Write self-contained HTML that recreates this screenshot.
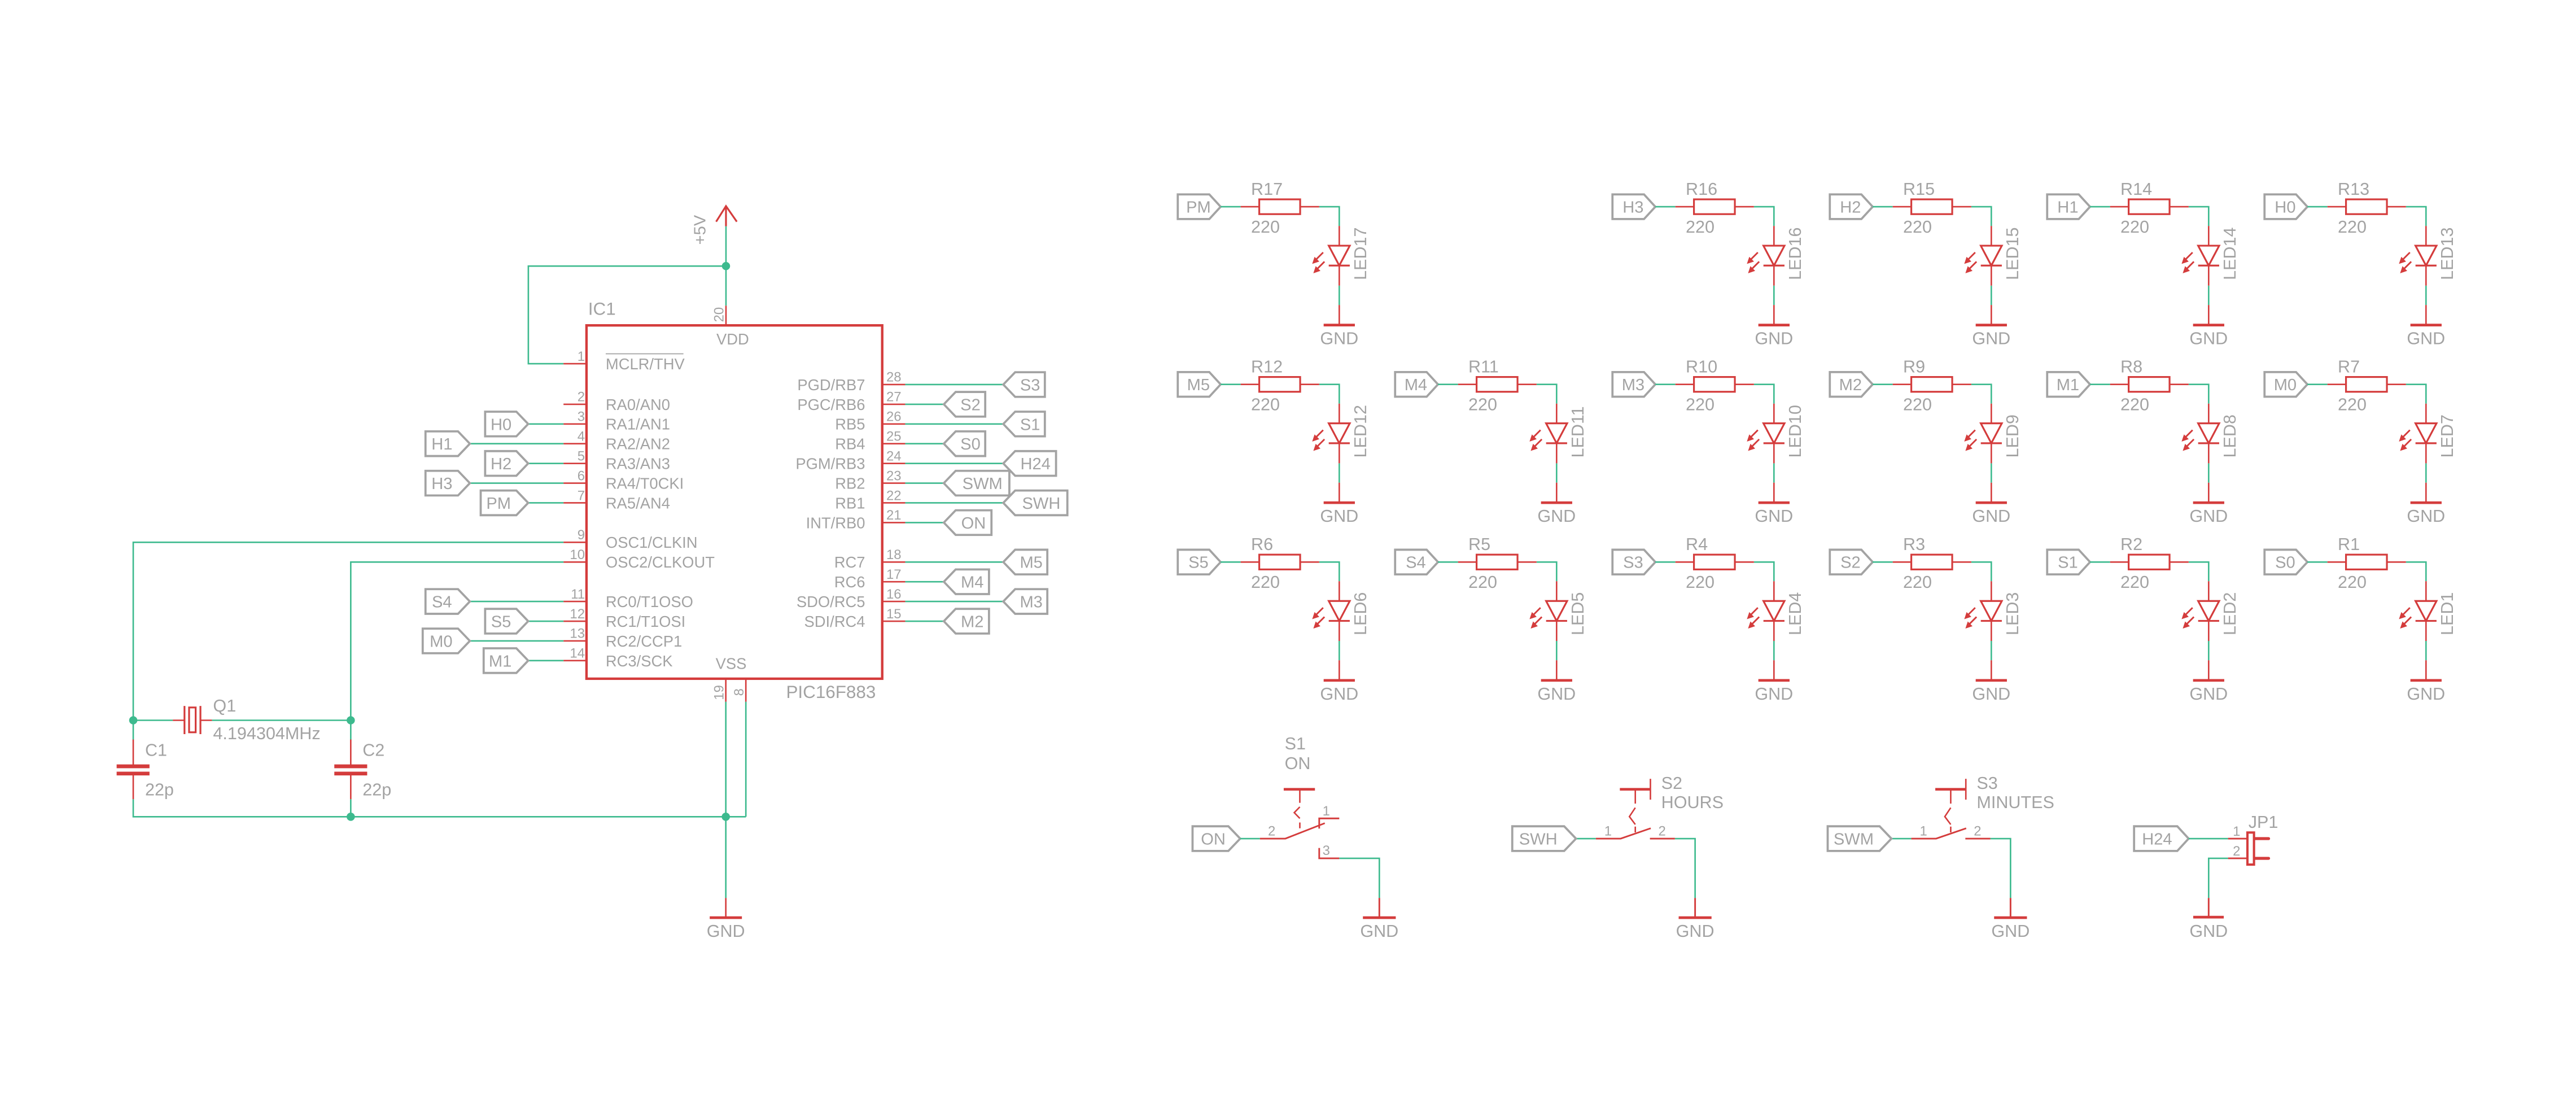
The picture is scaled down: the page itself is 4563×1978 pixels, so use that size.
<!DOCTYPE html>
<html><head><meta charset="utf-8"><style>
html,body{margin:0;padding:0;background:#fff;}
svg{display:block;}
text{font-family:"Liberation Sans",Arial,sans-serif;fill:#a3a3a3;}
.g{stroke:#3dba8e;stroke-width:0.9;fill:none;}
.r{stroke:#d43c3c;stroke-width:0.9;fill:none;}
.rb{stroke:#d43c3c;stroke-width:1.6;fill:none;}
.f{stroke:#a3a3a3;stroke-width:1.3;fill:none;stroke-linejoin:miter;}
.t{font-size:10.5px;}
.ft{font-size:10px;text-anchor:middle;}
.pn{font-size:8.2px;}
.pl{font-size:9.4px;}
.gnd{font-size:10.5px;text-anchor:middle;}
</style></head><body>
<svg width="4563" height="1978" viewBox="0 0 1568 679.7" preserveAspectRatio="none" xmlns="http://www.w3.org/2000/svg">
<defs>
<g id="led">
<path class="f" d="M0,-7.5H19.2L26.1,0L19.2,7.5H0Z"/>
<path class="g" d="M26.1,0H38.3M86.1,0H98.3V11.7M98.3,48V59.8"/>
<path class="r" d="M38.3,0H49.6M74.5,0H86.1M98.3,11.7V23.7M98.3,35.8V48M98.3,59.8V72"/>
<rect class="r" x="49.6" y="-4.5" width="24.9" height="9" style="stroke-width:1.1"/>
<path class="r" d="M91.9,23.7H104.7L98.3,35.8ZM91.9,35.8H104.7" style="stroke-width:1.1"/>
<path class="rb" d="M88.8,72H107.8"/>
<path class="r" d="M88.5,27.8L84,32.3M89.3,33.4L84.7,38" style="stroke-width:1"/>
<path d="M82.3,34.3L85.6,33.2L83.4,31Z M83,40L86.3,38.9L84.1,36.7Z" fill="#d43c3c" stroke="#d43c3c" stroke-width="0.6"/>
</g>
</defs>

<!-- IC1 -->
<rect x="357" y="198" width="180" height="215" class="rb" style="stroke-width:1.5"/>
<text x="358" y="191.5" style="font-size:10.8px">IC1</text>
<text x="478.5" y="424.8" style="font-size:10.8px">PIC16F883</text>
<text x="446" y="209.6" class="pl" text-anchor="middle">VDD</text>
<text x="445" y="407" class="pl" text-anchor="middle">VSS</text>
<path class="r" d="M441.9,125.4V137.7M435.9,134.9L441.9,125.4L448.5,134.9" style="stroke-width:1.1"/>
<path class="g" d="M441.9,137.7V186M441.9,161.9H321.6V221.3H343"/>
<path class="r" d="M441.9,186V198"/>
<circle cx="441.9" cy="161.9" r="2.5" fill="#3dba8e"/>
<text transform="translate(429.3,148.9) rotate(-90)" style="font-size:10px">+5V</text>
<text transform="translate(440.4,196) rotate(-90)" class="pn">20</text>
<path class="r" d="M343,221.3H357M343,246H357M343,258H357M343,270H357M343,282H357M343,294H357M343,306H357M343,330H357M343,342H357M343,366H357M343,378H357M343,390H357M343,402H357"/>
<g class="pn" text-anchor="end">
<text x="356" y="219.5">1</text><text x="356" y="244.2">2</text><text x="356" y="256.2">3</text><text x="356" y="268.2">4</text><text x="356" y="280.2">5</text><text x="356" y="292.2">6</text><text x="356" y="304.2">7</text><text x="356" y="328.2">9</text><text x="356" y="340.2">10</text><text x="356" y="364.2">11</text><text x="356" y="376.2">12</text><text x="356" y="388.2">13</text><text x="356" y="400.2">14</text>
</g>
<g class="pl">
<text x="368.7" y="224.8">MCLR/THV</text>
<line x1="368.7" y1="215.3" x2="416" y2="215.3" stroke="#a3a3a3" stroke-width="0.6"/>
<text x="368.7" y="249.4">RA0/AN0</text><text x="368.7" y="261.4">RA1/AN1</text><text x="368.7" y="273.4">RA2/AN2</text><text x="368.7" y="285.4">RA3/AN3</text><text x="368.7" y="297.4">RA4/T0CKI</text><text x="368.7" y="309.4">RA5/AN4</text><text x="368.7" y="333.4">OSC1/CLKIN</text><text x="368.7" y="345.4">OSC2/CLKOUT</text><text x="368.7" y="369.4">RC0/T1OSO</text><text x="368.7" y="381.4">RC1/T1OSI</text><text x="368.7" y="393.4">RC2/CCP1</text><text x="368.7" y="405.4">RC3/SCK</text>
</g>
<path class="r" d="M537,234H551M537,246H551M537,258H551M537,270H551M537,282H551M537,294H551M537,306H551M537,318H551M537,342H551M537,354H551M537,366H551M537,378H551"/>
<g class="pn">
<text x="539.5" y="232.2">28</text><text x="539.5" y="244.2">27</text><text x="539.5" y="256.2">26</text><text x="539.5" y="268.2">25</text><text x="539.5" y="280.2">24</text><text x="539.5" y="292.2">23</text><text x="539.5" y="304.2">22</text><text x="539.5" y="316.2">21</text><text x="539.5" y="340.2">18</text><text x="539.5" y="352.2">17</text><text x="539.5" y="364.2">16</text><text x="539.5" y="376.2">15</text>
</g>
<g class="pl" text-anchor="end">
<text x="526.6" y="237.4">PGD/RB7</text><text x="526.6" y="249.4">PGC/RB6</text><text x="526.6" y="261.4">RB5</text><text x="526.6" y="273.4">RB4</text><text x="526.6" y="285.4">PGM/RB3</text><text x="526.6" y="297.4">RB2</text><text x="526.6" y="309.4">RB1</text><text x="526.6" y="321.4">INT/RB0</text><text x="526.6" y="345.4">RC7</text><text x="526.6" y="357.4">RC6</text><text x="526.6" y="369.4">SDO/RC5</text><text x="526.6" y="381.4">SDI/RC4</text>
</g>
<path class="g" d="M321.5,258H343M286,270H343M321.5,282H343M286,294H343M321.5,306H343M286,366H343M321.5,378H343M286,390H343M321.5,402H343"/>
<path class="f" d="M295.3,250.5H314.3L321.5,258L314.3,265.5H295.3Z M259,262.5H278.8L286,270L278.8,277.5H259Z M295.3,274.5H314.3L321.5,282L314.3,289.5H295.3Z M259,286.5H278.8L286,294L278.8,301.5H259Z M292.6,298.5H314.3L321.5,306L314.3,313.5H292.6Z M259,358.5H278.8L286,366L278.8,373.5H259Z M295.3,370.5H314.3L321.5,378L314.3,385.5H295.3Z M257.3,382.5H278.8L286,390L278.8,397.5H257.3Z M294.4,394.5H314.3L321.5,402L314.3,409.5H294.4Z"/>
<g class="ft">
<text x="305" y="261.6">H0</text><text x="269" y="273.6">H1</text><text x="305" y="285.6">H2</text><text x="269" y="297.6">H3</text><text x="303.5" y="309.6">PM</text><text x="269" y="369.6">S4</text><text x="305" y="381.6">S5</text><text x="268.5" y="393.6">M0</text><text x="304.5" y="405.6">M1</text>
</g>
<path class="g" d="M551,234H610.7M551,246H574.5M551,258H610.7M551,270H574.5M551,282H610.7M551,294H574.5M551,306H610.7M551,318H574.5M551,342H610.7M551,354H574.5M551,366H610.7M551,378H574.5"/>
<path class="f" d="M610.7,234L617.9,226.5H636V241.5H617.9Z M574.5,246L581.7,238.5H599.7V253.5H581.7Z M610.7,258L617.9,250.5H636V265.5H617.9Z M574.5,270L581.7,262.5H599.7V277.5H581.7Z M610.7,282L617.9,274.5H642.8V289.5H617.9Z M574.5,294L581.7,286.5H614.4V301.5H581.7Z M610.7,306L617.9,298.5H649.7V313.5H617.9Z M574.5,318L581.7,310.5H603.5V325.5H581.7Z M610.7,342L617.9,334.5H637.5V349.5H617.9Z M574.5,354L581.7,346.5H602V361.5H581.7Z M610.7,366L617.9,358.5H637.5V373.5H617.9Z M574.5,378L581.7,370.5H602V385.5H581.7Z"/>
<g class="ft">
<text x="627" y="237.6">S3</text><text x="590.7" y="249.6">S2</text><text x="627" y="261.6">S1</text><text x="590.7" y="273.6">S0</text><text x="630.3" y="285.6">H24</text><text x="598" y="297.6">SWM</text><text x="633.8" y="309.6">SWH</text><text x="592.6" y="321.6">ON</text><text x="627.7" y="345.6">M5</text><text x="591.8" y="357.6">M4</text><text x="627.7" y="369.6">M3</text><text x="591.8" y="381.6">M2</text>
</g>
<path class="g" d="M343,330H81.1V450M343,342H213.5V450M81.1,438.3H105.2M129,438.3H213.5M81.1,486.3V497H454M213.5,486.3V497M441.8,427V546.4M454,427V497"/>
<path class="r" d="M441.8,413V427M454,413V427M105.2,438.3H112.3M122,438.3H129M81.1,450V465.5M81.1,471.5V486.3M213.5,450V465.5M213.5,471.5V486.3M441.8,546.4V558.4"/>
<path class="r" d="M112.3,429.6V446.7M122,429.6V446.7" style="stroke-width:1.1"/>
<rect x="115.1" y="430.5" width="4" height="15.1" class="r" style="stroke-width:1.1"/>
<path d="M71,466.3H91M71,470.7H91M203.5,466.3H223.5M203.5,470.7H223.5" stroke="#d43c3c" stroke-width="2.3"/>
<path class="rb" d="M432,558.4H451.6"/>
<g fill="#3dba8e"><circle cx="81.1" cy="438.3" r="2.5"/><circle cx="213.5" cy="438.3" r="2.5"/><circle cx="213.5" cy="497" r="2.5"/><circle cx="441.8" cy="497" r="2.5"/></g>
<text x="129.7" y="433" style="font-size:10.5px">Q1</text>
<text x="129.7" y="449.8" style="font-size:10.5px">4.194304MHz</text>
<text x="88.3" y="460" style="font-size:10.5px">C1</text><text x="88.3" y="484" style="font-size:10.5px">22p</text>
<text x="220.7" y="460" style="font-size:10.5px">C2</text><text x="220.7" y="484" style="font-size:10.5px">22p</text>
<text x="441.8" y="570" class="gnd">GND</text>
<text transform="translate(440.4,426) rotate(-90)" class="pn">19</text>
<text transform="translate(452.6,423.5) rotate(-90)" class="pn">8</text>

<use href="#led" x="716.9" y="125.8"/>
<use href="#led" x="981.5" y="125.8"/>
<use href="#led" x="1113.8" y="125.8"/>
<use href="#led" x="1246.1" y="125.8"/>
<use href="#led" x="1378.4" y="125.8"/>
<use href="#led" x="716.9" y="233.9"/>
<use href="#led" x="849.2" y="233.9"/>
<use href="#led" x="981.5" y="233.9"/>
<use href="#led" x="1113.8" y="233.9"/>
<use href="#led" x="1246.1" y="233.9"/>
<use href="#led" x="1378.4" y="233.9"/>
<use href="#led" x="716.9" y="342"/>
<use href="#led" x="849.2" y="342"/>
<use href="#led" x="981.5" y="342"/>
<use href="#led" x="1113.8" y="342"/>
<use href="#led" x="1246.1" y="342"/>
<use href="#led" x="1378.4" y="342"/>

<g class="ft">
<text x="729.5" y="129.4">PM</text><text x="994.1" y="129.4">H3</text><text x="1126.4" y="129.4">H2</text><text x="1258.7" y="129.4">H1</text><text x="1391" y="129.4">H0</text>
<text x="729.5" y="237.5">M5</text><text x="861.8" y="237.5">M4</text><text x="994.1" y="237.5">M3</text><text x="1126.4" y="237.5">M2</text><text x="1258.7" y="237.5">M1</text><text x="1391" y="237.5">M0</text>
<text x="729.5" y="345.6">S5</text><text x="861.8" y="345.6">S4</text><text x="994.1" y="345.6">S3</text><text x="1126.4" y="345.6">S2</text><text x="1258.7" y="345.6">S1</text><text x="1391" y="345.6">S0</text>
</g>
<g class="t">
<text x="761.5" y="118.5">R17</text><text x="761.5" y="141.5">220</text>
<text x="1026.1" y="118.5">R16</text><text x="1026.1" y="141.5">220</text>
<text x="1158.4" y="118.5">R15</text><text x="1158.4" y="141.5">220</text>
<text x="1290.7" y="118.5">R14</text><text x="1290.7" y="141.5">220</text>
<text x="1423" y="118.5">R13</text><text x="1423" y="141.5">220</text>
<text x="761.5" y="226.6">R12</text><text x="761.5" y="249.6">220</text>
<text x="893.8" y="226.6">R11</text><text x="893.8" y="249.6">220</text>
<text x="1026.1" y="226.6">R10</text><text x="1026.1" y="249.6">220</text>
<text x="1158.4" y="226.6">R9</text><text x="1158.4" y="249.6">220</text>
<text x="1290.7" y="226.6">R8</text><text x="1290.7" y="249.6">220</text>
<text x="1423" y="226.6">R7</text><text x="1423" y="249.6">220</text>
<text x="761.5" y="334.7">R6</text><text x="761.5" y="357.7">220</text>
<text x="893.8" y="334.7">R5</text><text x="893.8" y="357.7">220</text>
<text x="1026.1" y="334.7">R4</text><text x="1026.1" y="357.7">220</text>
<text x="1158.4" y="334.7">R3</text><text x="1158.4" y="357.7">220</text>
<text x="1290.7" y="334.7">R2</text><text x="1290.7" y="357.7">220</text>
<text x="1423" y="334.7">R1</text><text x="1423" y="357.7">220</text>
</g>
<g class="gnd">
<text x="815.2" y="209.5">GND</text><text x="1079.8" y="209.5">GND</text><text x="1212.1" y="209.5">GND</text><text x="1344.4" y="209.5">GND</text><text x="1476.7" y="209.5">GND</text>
<text x="815.2" y="317.6">GND</text><text x="947.5" y="317.6">GND</text><text x="1079.8" y="317.6">GND</text><text x="1212.1" y="317.6">GND</text><text x="1344.4" y="317.6">GND</text><text x="1476.7" y="317.6">GND</text>
<text x="815.2" y="425.7">GND</text><text x="947.5" y="425.7">GND</text><text x="1079.8" y="425.7">GND</text><text x="1212.1" y="425.7">GND</text><text x="1344.4" y="425.7">GND</text><text x="1476.7" y="425.7">GND</text>
</g>
<g class="t">
<text transform="translate(831.6,170.4) rotate(-90)">LED17</text>
<text transform="translate(1096.2,170.4) rotate(-90)">LED16</text>
<text transform="translate(1228.5,170.4) rotate(-90)">LED15</text>
<text transform="translate(1360.8,170.4) rotate(-90)">LED14</text>
<text transform="translate(1493.1,170.4) rotate(-90)">LED13</text>
<text transform="translate(831.6,278.5) rotate(-90)">LED12</text>
<text transform="translate(963.9,278.5) rotate(-90)">LED11</text>
<text transform="translate(1096.2,278.5) rotate(-90)">LED10</text>
<text transform="translate(1228.5,278.5) rotate(-90)">LED9</text>
<text transform="translate(1360.8,278.5) rotate(-90)">LED8</text>
<text transform="translate(1493.1,278.5) rotate(-90)">LED7</text>
<text transform="translate(831.6,386.6) rotate(-90)">LED6</text>
<text transform="translate(963.9,386.6) rotate(-90)">LED5</text>
<text transform="translate(1096.2,386.6) rotate(-90)">LED4</text>
<text transform="translate(1228.5,386.6) rotate(-90)">LED3</text>
<text transform="translate(1360.8,386.6) rotate(-90)">LED2</text>
<text transform="translate(1493.1,386.6) rotate(-90)">LED1</text>
</g>

<!-- S1 -->
<path class="f" d="M725.9,502.8H747.7L754.9,510.3L747.7,517.8H725.9Z"/>
<text x="738.5" y="513.9" class="ft">ON</text>
<path class="g" d="M754.9,510.3H766.9M815.2,522.3H839.6V546.4"/>
<path class="r" d="M766.9,510.3H782.4L806.4,500.9M803,504.2V498H815.2M803,516V522.3H815.2M839.6,546.4V558.4" style="stroke-width:1"/>
<path class="rb" d="M781.4,480.3H800.4M829.6,558.4H849.6"/>
<path class="r" d="M791.2,480.3V488.5M791.2,491L787.8,494.5L791.2,498M791.2,500.5V504" style="stroke-width:0.9"/>
<text x="782" y="456" class="t">S1</text><text x="782" y="468" class="t">ON</text>
<g class="pn" text-anchor="middle"><text x="774.1" y="508.4">2</text><text x="807.3" y="496.2">1</text><text x="807.3" y="520.3">3</text></g>
<text x="839.6" y="570" class="gnd">GND</text>

<!-- S2 -->
<g id="s2">
<path class="g" d="M959.3,510.3H971.4M1019.5,510.3H1031.8V546.4"/>
<path class="r" d="M971.4,510.3H986.5L1004.8,504M1004.3,510.3H1019.5M1031.8,546.4V558.4" style="stroke-width:1"/>
<path class="rb" d="M986,480.3H1004.6M1021.8,558.4H1041.8"/>
<path class="r" d="M1004.6,473.9V486.6M995.4,480.3V489M995.4,491.5L991.8,496.9L995.4,501.7M995.4,503V506.5" style="stroke-width:0.9"/>
</g>
<path class="f" d="M920.5,502.8H952.1L959.3,510.3L952.1,517.8H920.5Z"/>
<text x="936.3" y="513.9" class="ft">SWH</text>
<text x="1011.2" y="480" class="t">S2</text><text x="1011.2" y="491.8" class="t">HOURS</text>
<g class="pn" text-anchor="middle"><text x="978.8" y="508.4">1</text><text x="1011.7" y="508.4">2</text></g>
<text x="1031.8" y="570" class="gnd">GND</text>

<!-- S3 -->
<use href="#s2" x="192" y="0"/>
<path class="f" d="M1112.5,502.8H1144.1L1151.3,510.3L1144.1,517.8H1112.5Z"/>
<text x="1128.3" y="513.9" class="ft">SWM</text>
<text x="1203.2" y="480" class="t">S3</text><text x="1203.2" y="491.8" class="t">MINUTES</text>
<g class="pn" text-anchor="middle"><text x="1170.8" y="508.4">1</text><text x="1203.7" y="508.4">2</text></g>
<text x="1223.8" y="570" class="gnd">GND</text>

<!-- JP1 -->
<path class="f" d="M1299,502.8H1325.3L1332.2,510.3L1325.3,517.8H1299Z"/>
<text x="1313" y="513.9" class="ft">H24</text>
<path class="g" d="M1332.2,510.3H1356.2M1356.2,522.3H1344.4V546.4"/>
<path class="r" d="M1356.2,510.3H1367.7M1356.2,522.3H1367.7M1344.4,546.4V558.1" style="stroke-width:1"/>
<path class="rb" d="M1335,558.1H1353.6"/>
<rect x="1368" y="506.6" width="4" height="19.5" fill="#fff" stroke="#d43c3c" stroke-width="1.4"/>
<path d="M1372.8,510.3H1380.9M1372.8,522.3H1380.9" stroke="#d43c3c" stroke-width="1.8" stroke-linecap="round"/>
<text x="1368.6" y="503.7" class="t">JP1</text>
<g class="pn" text-anchor="middle"><text x="1361.4" y="508.6">1</text><text x="1361.4" y="520.6">2</text></g>
<text x="1344.4" y="570" class="gnd">GND</text>
</svg>
</body></html>
